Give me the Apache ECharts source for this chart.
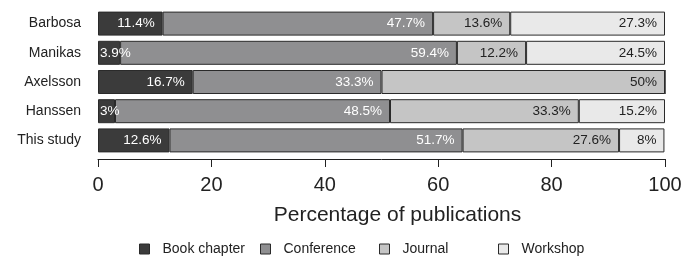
<!DOCTYPE html>
<html>
<head>
<meta charset="utf-8">
<script src="https://cdn.jsdelivr.net/npm/echarts@6/dist/echarts.min.js"></script>
<style>
  html, body { margin: 0; padding: 0; background: #fff; }
  #chart { width: 699px; height: 260px; }
</style>
</head>
<body>
<div id="chart"></div>
<script>
// studies (top to bottom)
const studies = ['Barbosa', 'Manikas', 'Axelsson', 'Hanssen', 'This study'];
const venues = ['Book chapter', 'Conference', 'Journal', 'Workshop'];

// percentages per venue, one value per study
const bookChapter = [11.4, 3.9, 16.7, 3, 12.6];
const conference = [47.7, 59.4, 33.3, 48.5, 51.7];
const journal = [13.6, 12.2, 50, 33.3, 27.6];
const workshop = [27.3, 24.5, 0, 15.2, 8];

const xTicks = [0, 20, 40, 60, 80, 100];

const fills = ['#3b3b3b', '#8f8f91', '#c5c5c5', '#e9e9e9'];
const labelColors = ['#fff', '#fff', '#222', '#222'];
const FONT = '"Liberation Sans", Arial, sans-serif';

const chart = echarts.init(document.getElementById('chart'));

function makeSeries(name, values, i) {
  return {
    name: name,
    type: 'bar',
    stack: 'all',
    barWidth: 24,
    itemStyle: { color: fills[i], borderColor: '#2a2a2a', borderWidth: 1 },
    label: {
      show: true,
      position: 'insideRight',
      distance: 8,
      color: labelColors[i],
      fontSize: 13.5,
      fontFamily: FONT,
      formatter: p => p.value > 0 ? p.value + '%' : ''
    },
    // tiny first segments: text starts at the bar's left edge
    data: values.map(v => (i === 0 && v < 5)
      ? { value: v, label: { position: 'insideLeft', distance: 2 } }
      : v),
    animation: false
  };
}

const series = [
  makeSeries(venues[0], bookChapter, 0),
  makeSeries(venues[1], conference, 1),
  makeSeries(venues[2], journal, 2),
  makeSeries(venues[3], workshop, 3)
];

// legend entries sit at uneven positions, like in the source figure
const legendLeft = [139, 260, 379, 498];
const legends = venues.map((v, i) => ({
  data: [v],
  left: legendLeft[i],
  top: 242,
  padding: 0,
  itemWidth: 10,
  itemHeight: 10,
  itemGap: 0,
  icon: 'rect',
  itemStyle: { borderColor: '#2a2a2a', borderWidth: 1 },
  textStyle: { fontSize: 14, fontFamily: FONT, color: '#222', padding: [0, 0, 0, 8] },
  selectedMode: false
}));

chart.setOption({
  backgroundColor: '#fff',
  textStyle: { fontFamily: FONT },
  legend: legends,
  grid: { left: 98, right: 34, top: 9, height: 146 },
  xAxis: {
    type: 'value',
    min: xTicks[0],
    max: xTicks[xTicks.length - 1],
    interval: 20,
    offset: 4,
    splitLine: { show: false },
    axisLine: { show: true, lineStyle: { color: '#222', width: 1 } },
    axisTick: { show: true, length: 8, lineStyle: { color: '#222' } },
    axisLabel: { fontSize: 20, color: '#222', margin: 16, fontFamily: FONT },
    name: 'Percentage of publications',
    nameLocation: 'middle',
    nameGap: 46,
    nameTextStyle: { fontSize: 21, color: '#222', fontFamily: FONT, padding: [0, 0, 0, 32] }
  },
  yAxis: {
    type: 'category',
    data: studies,
    inverse: true,
    axisLine: { show: false },
    axisTick: { show: false },
    axisLabel: { fontSize: 14, color: '#222', margin: 17, fontFamily: FONT }
  },
  series: series
});
</script>
</body>
</html>
